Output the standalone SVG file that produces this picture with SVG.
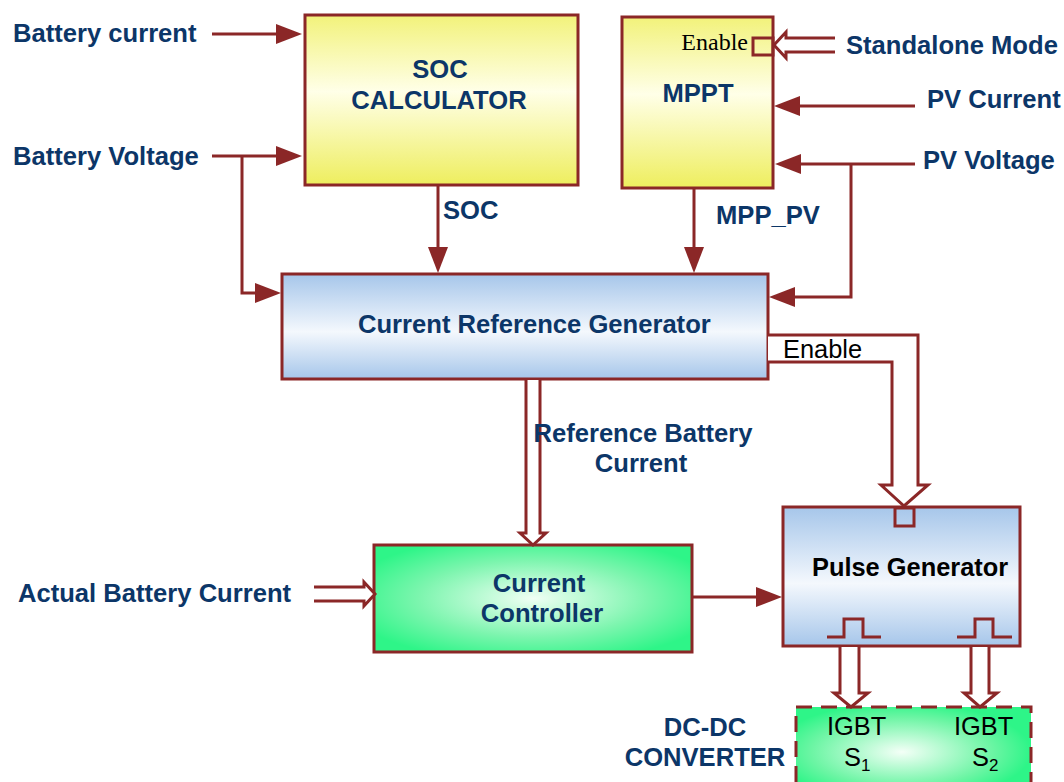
<svg xmlns="http://www.w3.org/2000/svg" width="1064" height="782" viewBox="0 0 1064 782">
<defs>
<linearGradient id="gYellow" x1="0" y1="0" x2="0" y2="1">
<stop offset="0" stop-color="#f2f27a"/>
<stop offset="0.45" stop-color="#ffffe8"/>
<stop offset="1" stop-color="#eeee5e"/>
</linearGradient>
<linearGradient id="gBlue" x1="0" y1="0" x2="0" y2="1">
<stop offset="0" stop-color="#a6c6ea"/>
<stop offset="0.55" stop-color="#f4f8fd"/>
<stop offset="1" stop-color="#a6c6ea"/>
</linearGradient>
<radialGradient id="gGreen" cx="0.5" cy="0.5" r="0.6">
<stop offset="0" stop-color="#f0fff4"/>
<stop offset="0.6" stop-color="#7cf5ae"/>
<stop offset="1" stop-color="#2ef588"/>
</radialGradient>
<radialGradient id="gGreen2" cx="0.45" cy="0.5" r="0.55">
<stop offset="0" stop-color="#f4fff7"/>
<stop offset="0.7" stop-color="#6cf5a4"/>
<stop offset="1" stop-color="#2ef588"/>
</radialGradient>
<marker id="ah" markerUnits="userSpaceOnUse" markerWidth="26" markerHeight="20" refX="16" refY="10" orient="auto">
<path d="M0,0 L26,10 L0,20 z" fill="#8b2727"/>
</marker>
</defs>
<style>
.box{stroke:#8b2727;stroke-width:3}
.ln{fill:none;stroke:#8b2727;stroke-width:3}
.dbl{fill:#ffffff;stroke:#8b2727;stroke-width:3;stroke-linejoin:miter}
.lbl{font-family:"Liberation Sans",Arial,sans-serif;font-weight:bold;font-size:25.6px;fill:#0c3668}
.blk{font-family:"Liberation Sans",Arial,sans-serif;font-size:25.4px;fill:#000000}
.ser{font-family:"Liberation Serif","Times New Roman",serif;font-size:24px;fill:#000000}
</style>

<g id="soc-calculator">
<rect class="box" x="305" y="15" width="273" height="170" fill="url(#gYellow)"/>
<text class="lbl" x="440" y="78" text-anchor="middle">SOC</text>
<text class="lbl" x="439" y="109" text-anchor="middle">CALCULATOR</text>
</g>

<g id="mppt">
<rect class="box" x="622" y="17" width="151" height="171" fill="url(#gYellow)"/>
<text class="lbl" x="698" y="102" text-anchor="middle">MPPT</text>
<text class="ser" x="748" y="50" text-anchor="end">Enable</text>
<rect class="ln" x="753" y="38" width="20" height="17"/>
</g>

<g id="current-reference-generator">
<rect class="box" x="282" y="274" width="486" height="105" fill="url(#gBlue)"/>
<text class="lbl" x="358" y="333">Current Reference Generator</text>
</g>

<g id="current-controller">
<rect class="box" x="374" y="545" width="318" height="107" fill="url(#gGreen)"/>
<text class="lbl" x="539" y="592" text-anchor="middle">Current</text>
<text class="lbl" x="542" y="622" text-anchor="middle">Controller</text>
</g>

<g id="pulse-generator">
<rect class="box" x="783" y="507" width="237" height="139" fill="url(#gBlue)"/>
<text class="blk" x="812" y="576" font-weight="bold">Pulse Generator</text>
<rect class="ln" x="895" y="508" width="19" height="18"/>
<polyline class="ln" points="827,637 844,637 844,619 863,619 863,637 881,637"/>
<polyline class="ln" points="957,637 975,637 975,619 993,619 993,637 1012,637"/>
</g>

<g id="dc-dc-converter">
<rect x="796" y="707" width="235" height="90" fill="url(#gGreen2)" stroke="#8b2727" stroke-width="3" stroke-dasharray="16,9"/>
<text class="lbl" x="705" y="736" text-anchor="middle">DC-DC</text>
<text class="lbl" x="705" y="766" text-anchor="middle">CONVERTER</text>
<text class="blk" x="827" y="735">IGBT</text>
<text class="blk" x="954" y="735">IGBT</text>
<text class="blk" x="844" y="766">S<tspan font-size="17" dy="5">1</tspan></text>
<text class="blk" x="972" y="766">S<tspan font-size="17" dy="5">2</tspan></text>
</g>

<g id="inputs">
<text class="lbl" x="13" y="42">Battery current</text>
<text class="lbl" x="13" y="165">Battery Voltage</text>
<text class="lbl" x="846" y="54">Standalone Mode</text>
<text class="lbl" x="927" y="108">PV Current</text>
<text class="lbl" x="923" y="169">PV Voltage</text>
<text class="lbl" x="18" y="602">Actual Battery Current</text>
</g>

<g id="connectors">
<line class="ln" x1="212" y1="34" x2="292" y2="34" marker-end="url(#ah)"/>
<line class="ln" x1="212" y1="156" x2="292" y2="156" marker-end="url(#ah)"/>
<polyline class="ln" points="242,156 242,293 271,293" marker-end="url(#ah)"/>
<line class="ln" x1="438" y1="185" x2="438" y2="263" marker-end="url(#ah)"/>
<text class="lbl" x="443" y="219">SOC</text>
<line class="ln" x1="694" y1="188" x2="694" y2="263" marker-end="url(#ah)"/>
<text class="lbl" x="716" y="224">MPP_PV</text>
<line class="ln" x1="915" y1="106" x2="784" y2="106" marker-end="url(#ah)"/>
<line class="ln" x1="915" y1="164" x2="785" y2="164" marker-end="url(#ah)"/>
<polyline class="ln" points="851,164 851,297 779,297" marker-end="url(#ah)"/>
<line class="ln" x1="693" y1="597" x2="772" y2="597" marker-end="url(#ah)"/>
<polyline class="dbl" points="835,38 786,38 786,32 774,45 786,58 786,52 835,52"/>
<polyline class="dbl" points="768,335 918,335 918,485 928,485 904,506 881,485 892,485 892,362 768,362"/>
<text class="blk" x="783" y="358">Enable</text>
<polyline class="dbl" points="526,380 526,533 520,533 533,545 546,533 540,533 540,380"/>
<text class="lbl" x="643" y="442" text-anchor="middle">Reference Battery</text>
<text class="lbl" x="641" y="472" text-anchor="middle">Current</text>
<polyline class="dbl" points="314,587 364,587 364,582 375,594 364,606 364,601 314,601"/>
<polyline class="dbl" points="840,647 840,693 834,693 851,707 868,693 859,693 859,647"/>
<polyline class="dbl" points="971,647 971,693 964,693 980,707 997,693 989,693 989,647"/>
</g>
</svg>
